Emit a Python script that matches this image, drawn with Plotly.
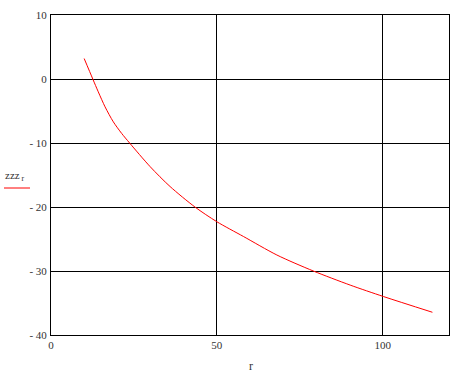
import plotly.graph_objects as go

r_vals = [10, 12.6, 14.25, 16.3, 18.8, 21.3, 23.7, 29.9, 35.9, 43.4, 50, 58, 68.1, 79.1, 90.2, 100.3, 115]
zzz_vals = [3.2, 0, -2.0, -4.35, -6.7, -8.5, -10, -13.7, -16.8, -20, -22.3, -24.6, -27.5, -30, -32.2, -34.0, -36.45]

x_ticks = [0, 50, 100]
y_ticks = [-40, -30, -20, -10, 0, 10]
y_tick_text = ["- 40", "- 30", "- 20", "- 10", "0", "10"]

L, R, T, B = 51, 18, 15, 39
W, H = 467, 374
pw, ph = W - L - R, H - T - B

fig = go.Figure()
fig.add_trace(go.Scatter(
    x=r_vals, y=zzz_vals, mode="lines",
    line=dict(color="#ff0000", width=1, shape="spline", smoothing=0.8),
    showlegend=False, hoverinfo="skip",
))

FAM = "'Liberation Serif', 'Times New Roman', serif"
font = dict(family=FAM, size=11, color="#333333")

fig.update_layout(
    width=W, height=H,
    margin=dict(l=L, r=R, t=T, b=B, pad=0, autoexpand=False),
    paper_bgcolor="white", plot_bgcolor="white",
    font=font,
    xaxis=dict(
        range=[0, 120], tickvals=x_ticks, ticktext=[str(v) for v in x_ticks],
        showgrid=True, gridcolor="black", gridwidth=1,
        showline=True, linecolor="black", linewidth=1, mirror=True,
        zeroline=False, ticks="", tickfont=font, automargin=False,
    ),
    yaxis=dict(
        range=[-40, 10], tickvals=y_ticks, ticktext=y_tick_text,
        showgrid=True, gridcolor="black", gridwidth=1,
        showline=True, linecolor="black", linewidth=1, mirror=True,
        zeroline=False, ticks="", tickfont=font, ticklabelstandoff=1,
        automargin=False,
    ),
    annotations=[
        dict(text="r", xref="paper", yref="paper", x=0.503, y=0, yshift=-31,
             xanchor="center", yanchor="middle", showarrow=False,
             font=dict(family=FAM, size=12, color="#333333")),
        dict(text="zzz<sub> r</sub>", xref="paper", yref="paper",
             x=(15 - L) / pw, y=(H - B - 176) / ph,
             xanchor="center", yanchor="middle", showarrow=False,
             font=dict(family=FAM, size=11, color="#333333")),
    ],
    shapes=[
        dict(type="line", xref="paper", yref="paper",
             x0=(4 - L) / pw, x1=(30 - L) / pw,
             y0=(H - B - 188) / ph, y1=(H - B - 188) / ph,
             line=dict(color="#ff0000", width=1)),
    ],
)

fig.write_html(
    "out.html",
    config={"displayModeBar": False},
    post_script="document.body.style.margin='0';document.body.style.padding='0';document.body.style.overflow='hidden';",
)
